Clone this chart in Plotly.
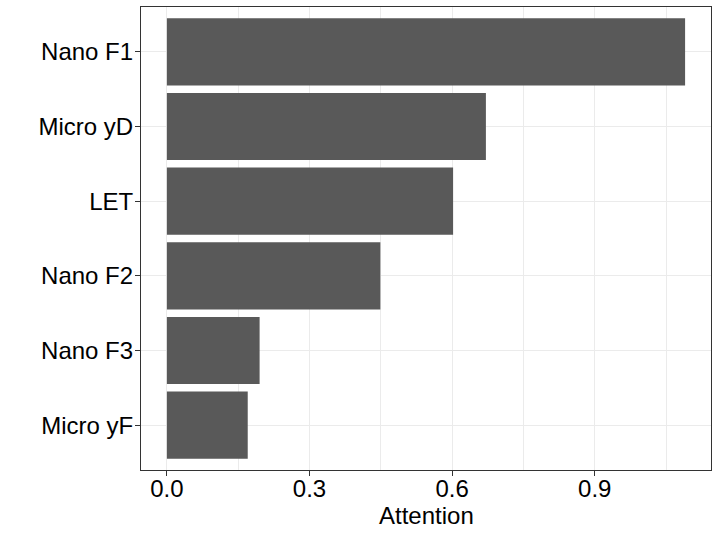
import plotly.graph_objects as go

features = ["Micro yF", "Nano F3", "Nano F2", "LET", "Micro yD", "Nano F1"]
attention = [0.170, 0.195, 0.449, 0.602, 0.671, 1.090]
x_ticks = [0.0, 0.3, 0.6, 0.9]
x_tick_labels = ["0.0", "0.3", "0.6", "0.9"]
x_title = "Attention"

fig = go.Figure(
    go.Bar(
        x=attention,
        y=features,
        orientation="h",
        marker=dict(color="#595959", line=dict(width=0)),
    )
)

font_family = "Liberation Sans, Arial, sans-serif"

fig.update_layout(
    width=718,
    height=538,
    margin=dict(l=141, r=7, t=7, b=68),
    paper_bgcolor="white",
    plot_bgcolor="white",
    bargap=0.1,
    showlegend=False,
    font=dict(family=font_family, size=24, color="black"),
)

fig.add_annotation(
    text=x_title,
    xref="paper",
    yref="paper",
    x=0.5,
    y=-0.0993,
    xanchor="center",
    yanchor="middle",
    showarrow=False,
    font=dict(size=24, color="black"),
)

fig.update_xaxes(
    automargin=False,
    range=[-0.0545, 1.1445],
    tickmode="array",
    tickvals=x_ticks,
    ticktext=x_tick_labels,
    tickfont=dict(size=24, color="black"),
    ticklabelstandoff=-8,
    ticks="outside",
    ticklen=5,
    tickwidth=1,
    tickcolor="#333333",
    showgrid=True,
    gridcolor="#EBEBEB",
    gridwidth=1.1,
    minor=dict(dtick=0.15, tick0=0.15, showgrid=True, gridcolor="#EBEBEB", gridwidth=0.6, ticks=""),
    showline=True,
    linecolor="#333333",
    linewidth=1.1,
    mirror=True,
    zeroline=False,
)

fig.update_yaxes(
    automargin=False,
    type="category",
    categoryorder="array",
    categoryarray=features,
    range=[-0.6, 5.6],
    tickfont=dict(size=24, color="black"),
    ticklabelstandoff=-3,
    ticks="outside",
    ticklen=5,
    tickwidth=1,
    tickcolor="#333333",
    showgrid=True,
    gridcolor="#EBEBEB",
    gridwidth=1.1,
    showline=True,
    linecolor="#333333",
    linewidth=1.1,
    mirror=True,
    zeroline=False,
)

fig.write_html(
    "out.html",
    config={"displayModeBar": False},
    post_script="document.body.style.margin='0';document.body.style.padding='0';",
)
